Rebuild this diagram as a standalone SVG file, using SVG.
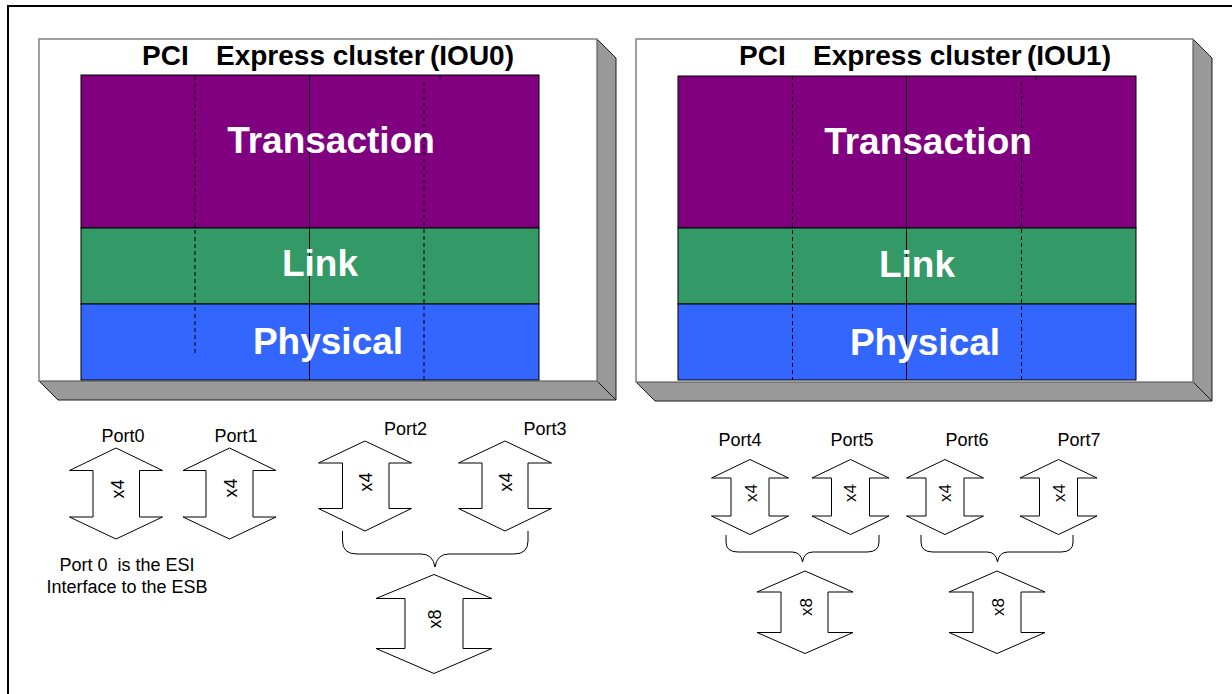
<svg xmlns="http://www.w3.org/2000/svg" width="1232" height="694" viewBox="0 0 1232 694">
<style>
.face{fill:#fff;stroke:#808080;stroke-width:1.5}
.shade{fill:#999;stroke:#1a1a1a;stroke-width:1}
.trans{fill:#800080;stroke:#000;stroke-width:1}
.link{fill:#339966;stroke:#000;stroke-width:1}
.phys{fill:#3366ff;stroke:#000;stroke-width:1}
.div{stroke:#000;stroke-width:1;fill:none}
.dash{stroke:#000;stroke-width:1;stroke-dasharray:4 3;fill:none}
.title{font-family:"Liberation Sans",Arial,sans-serif;font-weight:bold;font-size:28px;fill:#000}
.layer{font-family:"Liberation Sans",Arial,sans-serif;font-weight:bold;font-size:37px;fill:#fff;text-anchor:middle}
.arrow{fill:#fff;stroke:#000;stroke-width:1}
.lbl{font-family:"Liberation Sans",Arial,sans-serif;font-size:18px;fill:#000;text-anchor:middle}
.wid{font-family:"Liberation Sans",Arial,sans-serif;font-size:18px;fill:#000;text-anchor:middle}
.widr{font-family:"Liberation Sans",Arial,sans-serif;font-size:17px;fill:#000;text-anchor:middle}
.brace{fill:none;stroke:#000;stroke-width:1}
</style>
<rect width="1232" height="694" fill="#fff"/>
<path d="M8,694 V6 H1232" fill="none" stroke="#000" stroke-width="2"/>

<g id="cluster-iou0">
  <polygon class="shade" points="597,39 616,58 616,400 597,381"/>
  <polygon class="shade" points="39,381 597,381 616,400 58,400"/>
  <rect class="face" x="39" y="39" width="558" height="342"/>
  <text class="title" y="65"><tspan x="142">PCI</tspan><tspan x="216">Express cluster</tspan><tspan x="430">(IOU0)</tspan></text>
  <rect class="trans" x="81" y="75" width="458" height="153"/>
  <rect class="link" x="81" y="228" width="458" height="76"/>
  <rect class="phys" x="81" y="304" width="458" height="76"/>
  <line class="div" x1="309.5" y1="75" x2="309.5" y2="380"/>
  <line class="dash" x1="195" y1="76" x2="195" y2="354"/>
  <line class="dash" x1="424" y1="82" x2="424" y2="380"/>
  <line class="div" x1="440" y1="75" x2="440" y2="79"/>
  <text class="layer" x="331" y="153">Transaction</text>
  <text class="layer" x="320" y="276">Link</text>
  <text class="layer" x="328" y="354">Physical</text>
</g>

<g id="cluster-iou1">
  <polygon class="shade" points="1193,39 1212,58 1212,401 1193,382"/>
  <polygon class="shade" points="636,382 1193,382 1212,401 655,401"/>
  <rect class="face" x="636" y="39" width="557" height="343"/>
  <text class="title" y="65"><tspan x="739">PCI</tspan><tspan x="813">Express cluster</tspan><tspan x="1027">(IOU1)</tspan></text>
  <rect class="trans" x="678" y="76" width="458" height="152"/>
  <rect class="link" x="678" y="228" width="458" height="76"/>
  <rect class="phys" x="678" y="304" width="458" height="76"/>
  <line class="div" x1="906.5" y1="76" x2="906.5" y2="380"/>
  <line class="dash" x1="792.5" y1="76" x2="792.5" y2="380"/>
  <line class="dash" x1="1021.5" y1="82" x2="1021.5" y2="380"/>
  <line class="div" x1="1036" y1="76" x2="1036" y2="80"/>
  <text class="layer" x="928" y="154">Transaction</text>
  <text class="layer" x="917" y="277">Link</text>
  <text class="layer" x="925" y="355">Physical</text>
</g>

<g id="port0">
  <text class="lbl" x="123" y="442">Port0</text>
  <polygon class="arrow" points="116,448 162.5,470.5 139.5,470.5 139.5,517 162.5,517 116,539 69.5,517 93,517 93,470.5 69.5,470.5"/>
  <text class="wid" transform="translate(123.5,489) rotate(-90)">x4</text>
</g>
<g id="port1">
  <text class="lbl" x="236" y="442">Port1</text>
  <polygon class="arrow" points="229.5,448 276,470.5 253,470.5 253,517 276,517 229.5,539 183,517 206,517 206,470.5 183,470.5"/>
  <text class="wid" transform="translate(236.5,488) rotate(-90)">x4</text>
</g>
<g id="port2">
  <text class="lbl" x="405.5" y="435">Port2</text>
  <polygon class="arrow" points="365,441 411.5,463 389,463 389,508.5 411.5,508.5 365,531 318.5,508.5 342.5,508.5 342.5,463 318.5,463"/>
  <text class="wid" transform="translate(372,482) rotate(-90)">x4</text>
</g>
<g id="port3">
  <text class="lbl" x="545" y="435">Port3</text>
  <polygon class="arrow" points="505,441 551.5,463 528,463 528,508.5 551.5,508.5 505,531 458.5,508.5 482,508.5 482,463 458.5,463"/>
  <text class="wid" transform="translate(512,482) rotate(-90)">x4</text>
</g>
<g id="port23-x8">
  <polygon class="arrow" points="434,574.5 492,598.5 463,598.5 463,648.5 492,648.5 434,673.5 376,648.5 405,648.5 405,598.5 376,598.5"/>
  <text class="wid" transform="translate(440.5,619) rotate(-90)">x8</text>
</g>
<g id="note">
  <text class="lbl" x="127" y="571" xml:space="preserve">Port 0  is the ESI</text>
  <text class="lbl" x="127" y="593">Interface to the ESB</text>
</g>

<g id="port4">
  <text class="lbl" x="740" y="446">Port4</text>
  <polygon class="arrow" points="750,459.5 788.5,478 769,478 769,516 788.5,516 750,534.5 711.5,516 731,516 731,478 711.5,478"/>
  <text class="widr" transform="translate(756.5,493) rotate(-90)">x4</text>
</g>
<g id="port5">
  <text class="lbl" x="852" y="446">Port5</text>
  <polygon class="arrow" points="850.5,459.5 889,478 869.5,478 869.5,516 889,516 850.5,534.5 812,516 831.5,516 831.5,478 812,478"/>
  <text class="widr" transform="translate(856,493) rotate(-90)">x4</text>
</g>
<g id="port6">
  <text class="lbl" x="967" y="446">Port6</text>
  <polygon class="arrow" points="945,459.5 983.5,478 964,478 964,516 983.5,516 945,534.5 906.5,516 926,516 926,478 906.5,478"/>
  <text class="widr" transform="translate(951,493) rotate(-90)">x4</text>
</g>
<g id="port7">
  <text class="lbl" x="1079" y="446">Port7</text>
  <polygon class="arrow" points="1058.5,459.5 1097,478 1077.5,478 1077.5,516 1097,516 1058.5,534.5 1020,516 1039.5,516 1039.5,478 1020,478"/>
  <text class="widr" transform="translate(1064.5,493) rotate(-90)">x4</text>
</g>
<g id="port45-x8">
  <polygon class="arrow" points="805,571 853,592 828,592 828,632.5 853,632.5 805,653.5 757,632.5 781,632.5 781,592 757,592"/>
  <text class="widr" transform="translate(811.5,607) rotate(-90)">x8</text>
</g>
<g id="port67-x8">
  <polygon class="arrow" points="997,571 1045,592 1021,592 1021,632.5 1045,632.5 997,653.5 949,632.5 973,632.5 973,592 949,592"/>
  <text class="widr" transform="translate(1003.5,607) rotate(-90)">x8</text>
</g>

<g id="connectors">
  <path class="brace" d="M342.5,531 V541 Q342.5,554 357,554 H421 Q433,554 435,567 Q437,554 449,554 H514 Q528,554 528,541 V531"/>
  <path class="brace" d="M726,535 V542 Q726,552 738,552 H792 Q801,552 802.5,562 Q804,552 813,552 H867 Q879,552 879,542 V535"/>
  <path class="brace" d="M921,535 V542 Q921,552 933,552 H987 Q996,552 997.5,562 Q999,552 1008,552 H1061 Q1073,552 1073,542 V535"/>
</g>
</svg>
